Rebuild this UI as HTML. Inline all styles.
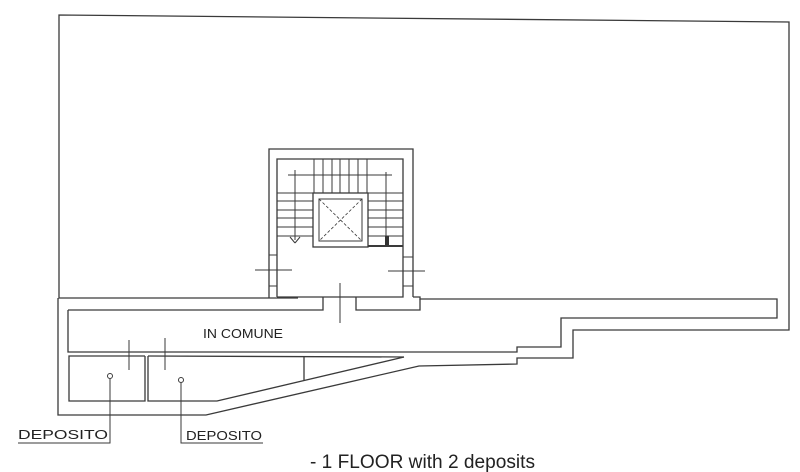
<!DOCTYPE html>
<html><head><meta charset="utf-8"><style>
html,body{margin:0;padding:0;background:#fff;width:800px;height:472px;overflow:hidden}
svg{display:block}
</style></head><body>
<svg width="800" height="472" viewBox="0 0 800 472" xmlns="http://www.w3.org/2000/svg">
<g fill="none" stroke="#3a3a3a" stroke-width="1.3">
<polyline points="298,298 59,298 59,15 789,22 789,330 573,330 573,358 517,358 517,364 419,366 206,415 58,415 58,298"/>
<polyline points="413,297 420,297 420,299 777,299 777,318 561,318 561,347 517,347 517,352 487,352"/>
<polyline points="68,310 68,352 487,352"/>
<polyline points="68,310 323,310 323,297"/>
<polyline points="356,297 356,310 420,310 420,299"/>
<polyline points="269,298 269,149 413,149 413,297"/>
<polyline points="277,297 277,159 403,159 403,297 277,297"/>
<rect x="313" y="193" width="55" height="54"/>
<rect x="319" y="199" width="43" height="42" stroke-width="1"/>
<line x1="319" y1="199" x2="362" y2="241" stroke-dasharray="3,2" stroke-width="0.8"/>
<line x1="362" y1="199" x2="319" y2="241" stroke-dasharray="3,2" stroke-width="0.8"/>
<g stroke-width="1">
<line x1="314" y1="159" x2="314" y2="193"/><line x1="323" y1="159" x2="323" y2="193"/>
<line x1="332" y1="159" x2="332" y2="193"/><line x1="340" y1="159" x2="340" y2="193"/>
<line x1="349" y1="159" x2="349" y2="193"/><line x1="358" y1="159" x2="358" y2="193"/>
<line x1="367" y1="159" x2="367" y2="193"/>
<line x1="277" y1="193" x2="313" y2="193"/><line x1="277" y1="201" x2="313" y2="201"/>
<line x1="277" y1="210" x2="313" y2="210"/><line x1="277" y1="218" x2="313" y2="218"/>
<line x1="277" y1="227" x2="313" y2="227"/><line x1="277" y1="236" x2="313" y2="236"/>
<line x1="368" y1="193" x2="403" y2="193"/><line x1="368" y1="201" x2="403" y2="201"/>
<line x1="368" y1="210" x2="403" y2="210"/><line x1="368" y1="218" x2="403" y2="218"/>
<line x1="368" y1="227" x2="403" y2="227"/><line x1="368" y1="236" x2="403" y2="236"/>
<line x1="288" y1="175" x2="392" y2="175"/>
<line x1="295" y1="170" x2="295" y2="240"/>
<line x1="386" y1="172" x2="386" y2="240"/>
<line x1="290" y1="237" x2="295" y2="243"/><line x1="300" y1="237" x2="295" y2="243"/>
<line x1="368" y1="246" x2="403" y2="246" stroke-width="2"/>
<line x1="255" y1="270" x2="292" y2="270"/><line x1="269" y1="255" x2="277" y2="255"/><line x1="269" y1="286" x2="277" y2="286"/>
<line x1="388" y1="271" x2="425" y2="271"/><line x1="403" y1="257" x2="413" y2="257"/><line x1="403" y1="286" x2="413" y2="286"/>
<line x1="340" y1="283" x2="340" y2="323"/>
<line x1="129" y1="340" x2="129" y2="370"/><line x1="165" y1="338" x2="165" y2="370"/>
</g>
<rect x="385" y="236" width="4" height="9" fill="#333" stroke="none"/>
<polyline points="145,356 69,356 69,401 145,401 145,356"/>
<polyline points="148,356 148,401 217,401 404,357"/>
<line x1="148" y1="356" x2="404" y2="357"/>
<line x1="304" y1="357" x2="304" y2="380"/>
<circle cx="110" cy="376" r="2.5" stroke-width="1"/>
<circle cx="181" cy="380" r="2.5" stroke-width="1"/>
<polyline points="110,379 110,443 18,443" stroke-width="1"/>
<polyline points="181,383 181,443 263,443" stroke-width="1"/>
</g>
<g font-family="Liberation Sans, sans-serif" fill="#222">
<text x="203" y="338" font-size="13" textLength="80" lengthAdjust="spacingAndGlyphs">IN COMUNE</text>
<text x="18" y="439" font-size="13" textLength="90" lengthAdjust="spacingAndGlyphs">DEPOSITO</text>
<text x="186" y="440" font-size="13" textLength="76" lengthAdjust="spacingAndGlyphs">DEPOSITO</text>
<text x="310" y="468" font-size="19" textLength="225" lengthAdjust="spacingAndGlyphs">- 1 FLOOR with 2 deposits</text>
</g>
</svg>
</body></html>
